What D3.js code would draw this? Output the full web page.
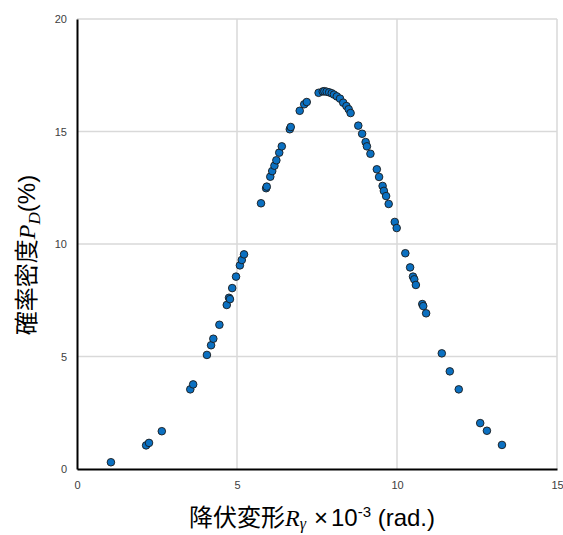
<!DOCTYPE html>
<html>
<head>
<meta charset="utf-8">
<script src="https://cdn.jsdelivr.net/npm/d3@7"></script>
<style>
  body { margin: 0; background: #fff; }
  svg text { font-family: "Liberation Sans", Arial, sans-serif; }
</style>
</head>
<body>
<div id="chart"></div>
<script>
// 降伏変形 (x10^-3 rad.)
var rx = [1.06, 2.16, 2.25, 2.65, 3.54, 3.63, 4.06, 4.19, 4.26, 4.45, 4.68, 4.75, 4.78, 4.85, 4.97,
  5.09, 5.15, 5.22, 5.75, 5.91, 5.93, 6.04, 6.10, 6.17, 6.23, 6.32, 6.40, 6.65, 6.68, 6.96, 7.10, 7.18,
  7.55, 7.68, 7.73, 7.80, 7.88, 7.96, 8.03, 8.12, 8.22, 8.32, 8.42, 8.49, 8.55,
  8.79, 8.91, 9.02, 9.06, 9.17, 9.37, 9.44, 9.55, 9.59, 9.66, 9.74, 9.93, 9.99,
  10.26, 10.41, 10.50, 10.54, 10.59, 10.79, 10.82, 10.91, 11.40, 11.65, 11.93, 12.60, 12.81, 13.28];
// 確率密度 (%)
var pd = [0.30, 1.05, 1.16, 1.68, 3.54, 3.76, 5.07, 5.50, 5.79, 6.41, 7.29, 7.61, 7.55, 8.04, 8.55,
  9.05, 9.29, 9.54, 11.81, 12.48, 12.55, 12.99, 13.24, 13.48, 13.72, 14.06, 14.34, 15.10, 15.20, 15.92, 16.21, 16.31,
  16.72, 16.78, 16.79, 16.77, 16.74, 16.70, 16.64, 16.56, 16.46, 16.28, 16.13, 15.99, 15.82,
  15.26, 14.90, 14.53, 14.34, 14.01, 13.32, 12.98, 12.58, 12.36, 12.13, 11.78, 10.98, 10.71,
  9.59, 8.96, 8.55, 8.43, 8.18, 7.33, 7.24, 6.92, 5.14, 4.34, 3.54, 2.04, 1.70, 1.07];

var xTicks = [0, 5, 10, 15];
var yTicks = [0, 5, 10, 15, 20];

var W = 563, H = 535;
var margin = {top: 19, right: 6, bottom: 66, left: 77};
var width = W - margin.left - margin.right;
var height = H - margin.top - margin.bottom;

var svg = d3.select("#chart").append("svg")
  .attr("width", W).attr("height", H)
  .append("g")
  .attr("transform", "translate(" + margin.left + "," + margin.top + ")");

var x = d3.scaleLinear().domain([0, 15]).range([0, width]);
var y = d3.scaleLinear().domain([0, 20]).range([height, 0]);

// grid
svg.append("g").selectAll("line").data(xTicks.slice(1)).enter().append("line")
  .attr("x1", d => x(d)).attr("x2", d => x(d))
  .attr("y1", 0).attr("y2", height)
  .attr("stroke", "#d9d9d9").attr("stroke-width", 1.5);
svg.append("g").selectAll("line").data(yTicks.slice(1)).enter().append("line")
  .attr("x1", 0).attr("x2", width)
  .attr("y1", d => y(d)).attr("y2", d => y(d))
  .attr("stroke", "#d9d9d9").attr("stroke-width", 1.5);

// axes
var xAxis = svg.append("g")
  .attr("transform", "translate(0," + height + ")")
  .call(d3.axisBottom(x).tickValues(xTicks).tickSize(0).tickPadding(12));
var yAxis = svg.append("g")
  .call(d3.axisLeft(y).tickValues(yTicks).tickSize(0).tickPadding(10));
[xAxis, yAxis].forEach(function(a) {
  a.select(".domain").attr("stroke", "#000").attr("stroke-width", 2);
  a.selectAll("text").attr("font-size", 11).attr("fill", "#404040")
    .attr("font-family", "Liberation Sans, Arial, sans-serif");
});

// points
svg.append("g").selectAll("circle").data(rx.map((v, i) => [v, pd[i]])).enter().append("circle")
  .attr("cx", d => x(d[0]))
  .attr("cy", d => y(d[1]))
  .attr("r", 3.8)
  .attr("fill", "#0b70c1")
  .attr("stroke", "#1a1a1a")
  .attr("stroke-width", 0.9);

// x title
var xt = d3.select("svg").append("text")
  .attr("x", 312).attr("y", 526)
  .attr("text-anchor", "middle")
  .attr("font-size", 24).attr("fill", "#000");
xt.append("tspan").attr("font-family", "Noto Sans CJK JP").text("降伏変形");
xt.append("tspan").attr("font-family", "Liberation Serif").attr("font-style", "italic").text("R");
xt.append("tspan").attr("font-family", "Liberation Serif").attr("font-style", "italic")
  .attr("font-size", 16).attr("dy", 3).text("γ");
xt.append("tspan").attr("dy", -3).attr("dx", 8).attr("font-family", "Liberation Sans").text("×");
xt.append("tspan").attr("dx", 3).attr("font-family", "Liberation Sans").text("10");
xt.append("tspan").attr("font-family", "Liberation Sans").attr("font-size", 15).attr("dy", -9).text("-3");
xt.append("tspan").attr("font-family", "Liberation Sans").attr("dy", 9).text(" (rad.)");

// y title
var yt = d3.select("svg").append("text")
  .attr("transform", "translate(35,255) rotate(-90)")
  .attr("text-anchor", "middle")
  .attr("font-size", 24).attr("fill", "#000");
yt.append("tspan").attr("font-family", "Noto Sans CJK JP").text("確率密度");
yt.append("tspan").attr("font-family", "Liberation Serif").attr("font-style", "italic").text("P");
yt.append("tspan").attr("font-family", "Liberation Serif").attr("font-style", "italic")
  .attr("font-size", 17).attr("dy", 5).text("D");
yt.append("tspan").attr("dy", -5).attr("font-family", "Liberation Sans").text("(%)");
</script>
</body>
</html>
